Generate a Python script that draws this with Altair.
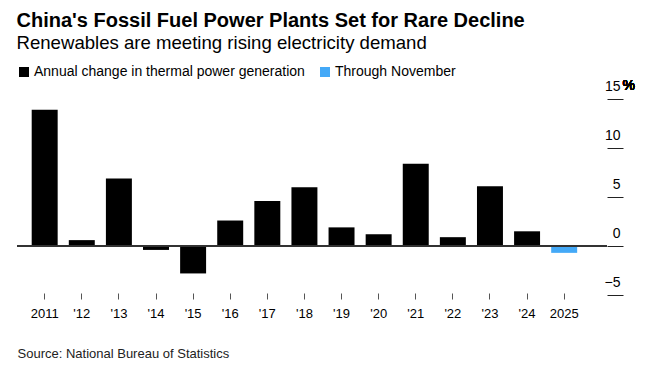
import altair as alt
import pandas as pd

FONT = "Liberation Sans"

years = ["2011", "'12", "'13", "'14", "'15", "'16", "'17", "'18", "'19", "'20",
         "'21", "'22", "'23", "'24", "2025"]
change = [13.9, 0.6, 6.9, -0.4, -2.8, 2.6, 4.6, 6.0, 1.9, 1.2, 8.4, 0.9, 6.1, 1.5, -0.7]
series_names = ["Annual change in thermal power generation", "Through November"]
series_colors = ["#000000", "#44a9f7"]
series = [series_names[0]] * 14 + [series_names[1]]
y_ticks = [-5, 0, 5, 10, 15]

df = pd.DataFrame({"year": years, "change": change, "series": series})

W, H = 590, 196

x_enc = alt.X(
    "year:N", sort=years,
    scale=alt.Scale(paddingInner=0.3, paddingOuter=0.6, align=0.33),
    axis=alt.Axis(
        title="Source: National Bureau of Statistics",
        labelAngle=0, domain=False, tickSize=6, tickColor="#555", tickWidth=1,
        offset=-2, labelPadding=8, labelFontSize=13, labelFont=FONT, labelColor="#000",
        titleX=0, titleY=64, titleAlign="left", titleAnchor="start",
        titleBaseline="alphabetic", titleFontWeight="normal", titleFontSize=13,
        titleFont=FONT, titleColor="#222",
    ),
)

y_scale = alt.Scale(domain=[-5, 15], nice=False, zero=False)
y_enc = alt.Y(
    "change:Q", scale=y_scale,
    axis=alt.Axis(
        orient="right", values=y_ticks, title=None, domain=False, grid=False,
        tickSize=16, tickColor="#222", tickWidth=1, labelAlign="right", labelPadding=-3,
        labelBaseline="alphabetic", labelOffset=-9, labelFontSize=14, labelFont=FONT,
        labelColor="#000",
    ),
)

bars = alt.Chart(df).mark_bar().encode(
    x=x_enc,
    y=y_enc,
    color=alt.Color(
        "series:N",
        scale=alt.Scale(domain=series_names, range=series_colors),
        legend=alt.Legend(
            title=None, orient="none", legendX=0, legendY=-34, direction="horizontal",
            symbolType="square", symbolSize=100, symbolStrokeWidth=0,
            labelFontSize=14, labelFont=FONT, labelColor="#000", labelLimit=0,
            columnPadding=13, labelOffset=3, padding=0,
        ),
    ),
)

zero = alt.Chart(df).mark_rule(color="#333", strokeWidth=1).encode(y=alt.datum(0))

pct = alt.Chart(df).mark_text(
    text="%", align="left", baseline="alphabetic", dy=-9, fontSize=14, font=FONT, color="#000"
).encode(y=alt.datum(y_ticks[-1]), x=alt.value(W + 15.5))

chart = alt.layer(bars, zero, pct).properties(
    width=W, height=H,
    background="white",
    padding={"left": 8, "top": 3, "right": 10, "bottom": 5},
    title=alt.TitleParams(
        text="China's Fossil Fuel Power Plants Set for Rare Decline",
        subtitle="Renewables are meeting rising electricity demand",
        anchor="start", font=FONT, fontSize=20, fontWeight="bold", color="#000",
        subtitleFont=FONT, subtitleFontSize=18.6, subtitleColor="#000",
        subtitlePadding=3, offset=12,
    ),
).configure_view(stroke=None)

chart.save("out.html", embed_options={"renderer": "svg", "actions": False})
